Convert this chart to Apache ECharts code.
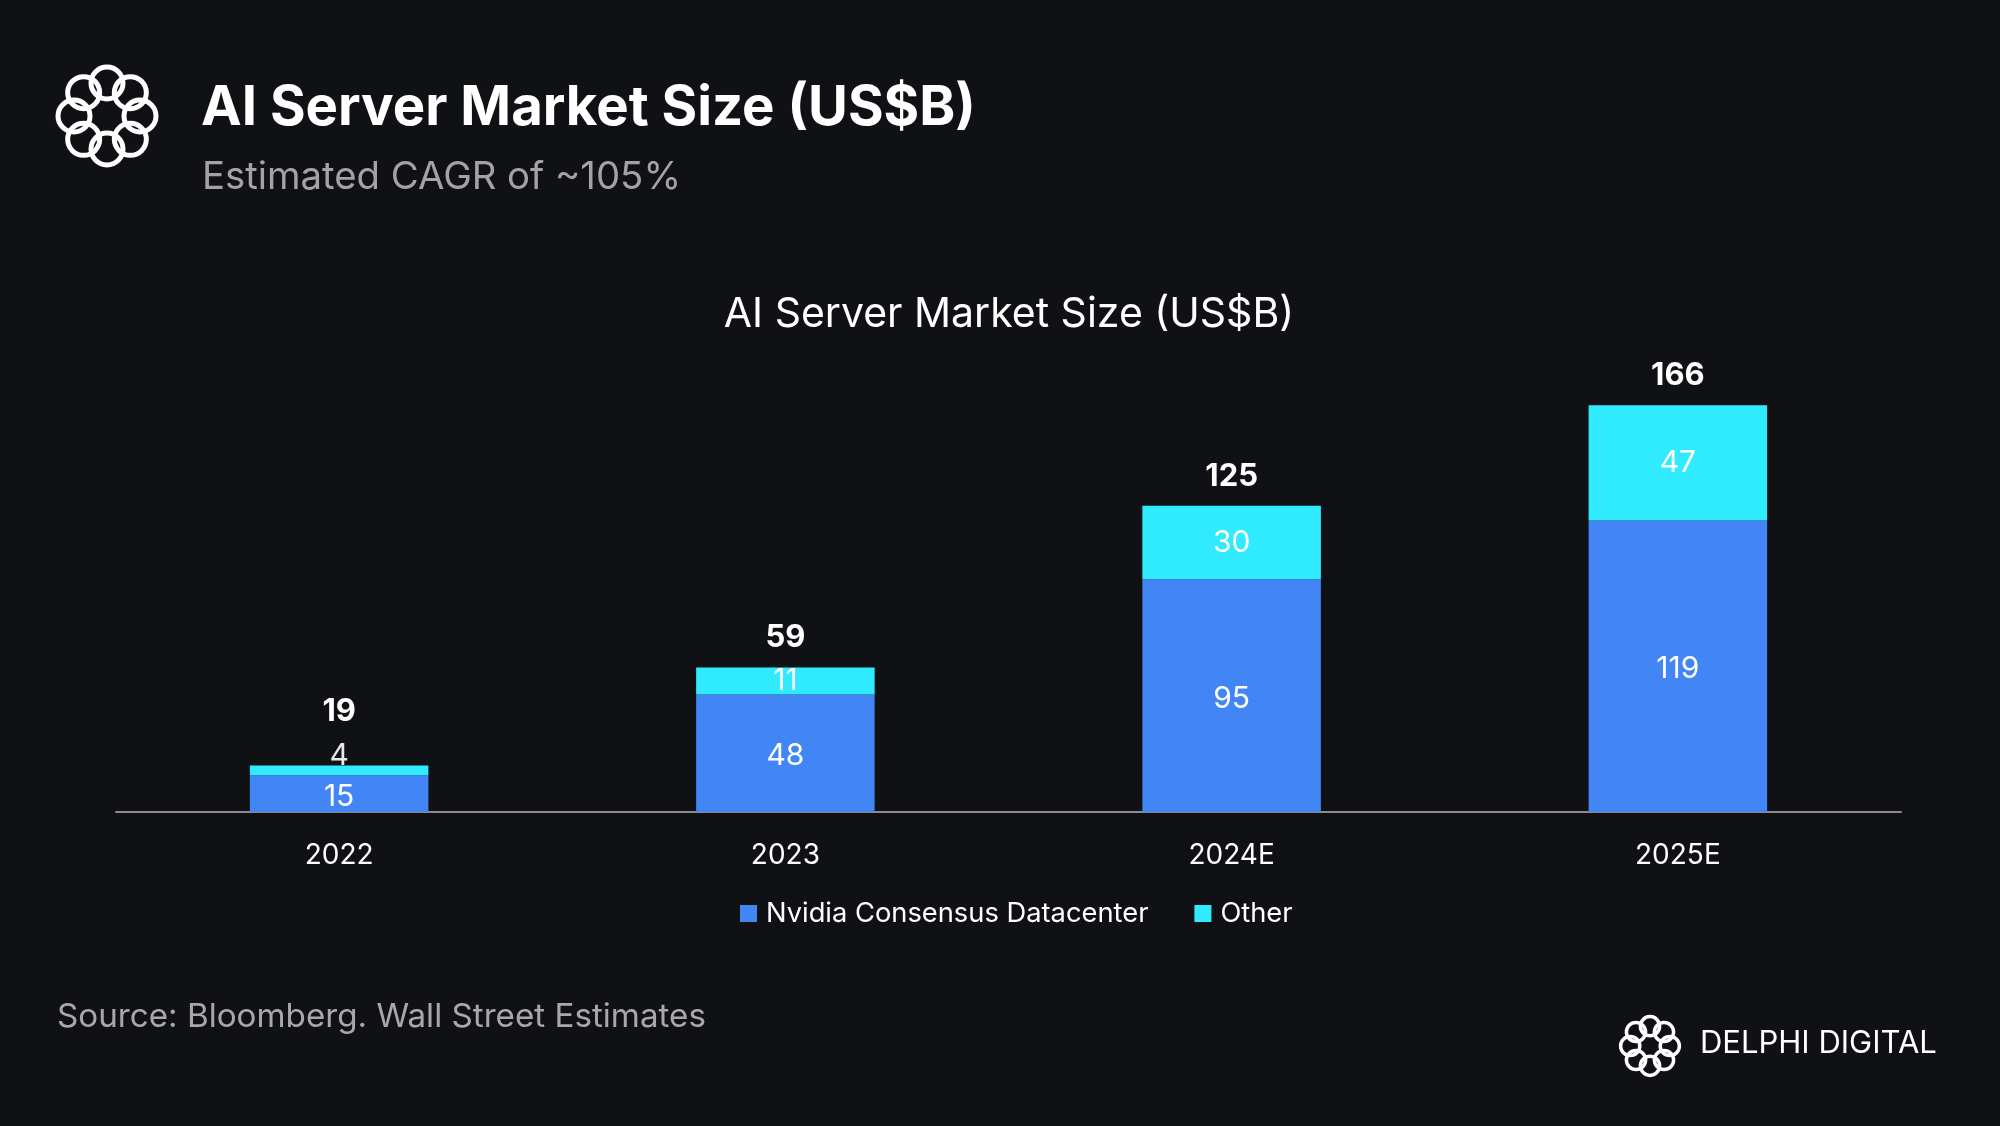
<!DOCTYPE html>
<html>
<head>
<meta charset="utf-8">
<script src="https://cdn.jsdelivr.net/npm/echarts@6/dist/echarts.min.js"></script>
<style>
html,body{margin:0;padding:0;background:#101114;}
#chart{width:2000px;height:1126px;}
</style>
</head>
<body>
<div id="chart"></div>
<script>
const categories = ['2022', '2023', '2024E', '2025E'];
const nvidia = [15, 48, 95, 119];
const other = [4, 11, 30, 47];
const totals = [19, 59, 125, 166];

const FONT = 'Inter, "Noto Sans", sans-serif';
const chart = echarts.init(document.getElementById('chart'), null, {renderer: 'canvas'});

function knot(cx, cy, R, lw) {
  const els = [];
  const n = 8;
  for (let i = 0; i < n; i++) {
    const a = (i / n) * Math.PI * 2;
    els.push({
      type: 'circle',
      shape: {cx: cx + Math.cos(a) * R * 0.66, cy: cy + Math.sin(a) * R * 0.66, r: R * 0.32},
      style: {fill: 'none', stroke: '#ffffff', lineWidth: lw}
    });
  }
  return els;
}

const otherData = other.map((v, i) => i === 0 ? {value: v, label: {position: 'top', distance: -6, color: '#e8e8e8'}} : v);
const totalData = totals.map((v, i) => i === 0 ? {value: v, label: {distance: 38}} : v);

chart.setOption({
  backgroundColor: '#101114',
  animation: false,
  title: [
    {text: 'AI Server Market Size (US$B)', left: 196, top: 76,
     textStyle: {color: '#ffffff', fontFamily: FONT, fontSize: 54.5, fontWeight: 'bold'}},
    {text: 'Estimated CAGR of ~105%', left: 197, top: 153,
     textStyle: {color: '#a3a3a3', fontFamily: FONT, fontSize: 38.3, fontWeight: 'normal'}},
    {text: 'AI Server Market Size (US$B)', left: 1004, textAlign: 'center', top: 289,
     textStyle: {color: '#ffffff', fontFamily: FONT, fontSize: 41, fontWeight: 'normal'}},
    {text: 'Source: Bloomberg. Wall Street Estimates', left: 52, top: 996,
     textStyle: {color: '#a8a8a8', fontFamily: FONT, fontSize: 33.2, fontWeight: 'normal'}}
  ],
  graphic: [
    ...knot(107, 116, 50, 5),
    ...knot(1650, 1046, 30, 3.5),
    {type: 'text', left: 1700, top: 1028,
     style: {text: 'DELPHI DIGITAL', fill: '#ffffff', fontFamily: FONT, fontSize: 31, fontWeight: 'normal'}}
  ],
  legend: {
    data: ['Nvidia Consensus Datacenter', 'Other'],
    left: 735, top: 895,
    itemWidth: 17, itemHeight: 17, itemGap: 46,
    icon: 'rect',
    textStyle: {color: '#ffffff', fontFamily: FONT, fontSize: 27.3, padding: [0, 0, 0, 4]}
  },
  grid: {left: 116, right: 99, top: 371, bottom: 314, containLabel: false},
  xAxis: {
    type: 'category', data: categories,
    axisLine: {lineStyle: {color: '#8c8c8c', width: 2}},
    axisTick: {show: false},
    axisLabel: {color: '#ffffff', fontFamily: FONT, fontSize: 28, margin: 30}
  },
  yAxis: {type: 'value', min: 0, max: 180, show: false, splitLine: {show: false}},
  series: [
    {name: 'Nvidia Consensus Datacenter', type: 'bar', stack: 'a', data: nvidia, barWidth: '40%',
     itemStyle: {color: '#4285f4'},
     label: {show: true, position: 'inside', color: '#ffffff', fontFamily: FONT, fontSize: 30, offset: [0, 3]}},
    {name: 'Other', type: 'bar', stack: 'a', data: otherData, barWidth: '40%',
     itemStyle: {color: '#30ebfd'},
     label: {show: true, position: 'inside', color: '#ffffff', fontFamily: FONT, fontSize: 30}},
    {name: 'Total', type: 'scatter', data: totalData, symbolSize: 0, silent: true,
     itemStyle: {opacity: 1},
     label: {show: true, position: 'top', distance: 14, color: '#ffffff', fontFamily: FONT, fontSize: 31, fontWeight: 'bold'}}
  ]
});
</script>
</body>
</html>
